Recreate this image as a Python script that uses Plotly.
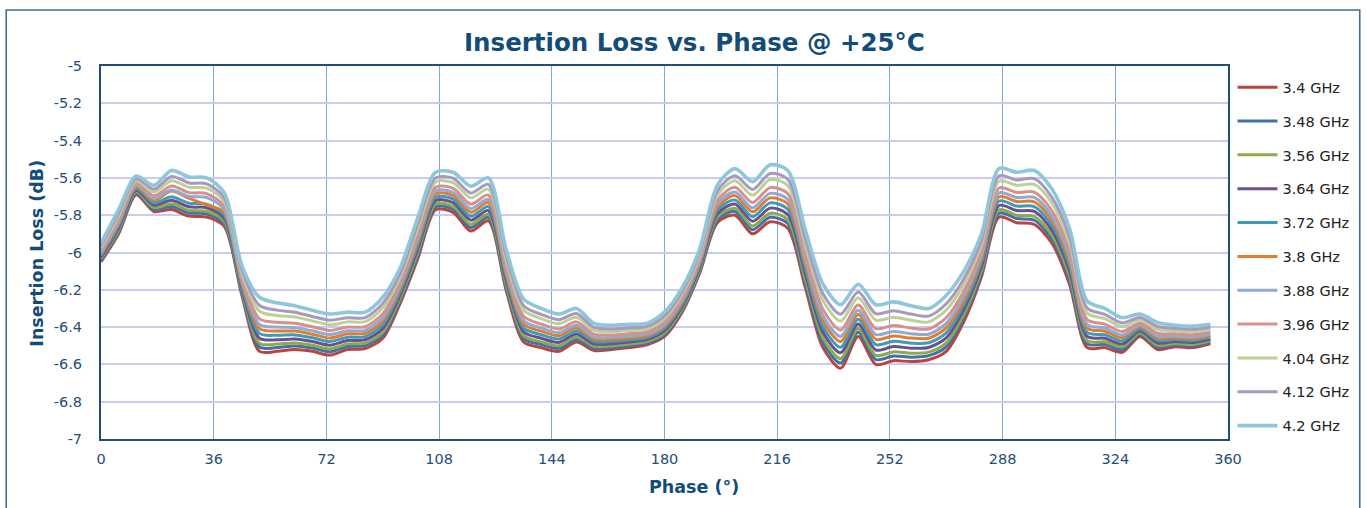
import plotly.graph_objects as go

# phase states (deg)
phase = [0, 5.625, 11.25, 16.875, 22.5, 28.125, 33.75, 39.375, 45, 50.625,
         56.25, 61.875, 67.5, 73.125, 78.75, 84.375, 90, 95.625, 101.25, 106.875,
         112.5, 118.125, 123.75, 129.375, 135, 140.625, 146.25, 151.875, 157.5, 163.125,
         168.75, 174.375, 180, 185.625, 191.25, 196.875, 202.5, 208.125, 213.75, 219.375,
         225, 230.625, 236.25, 241.875, 247.5, 253.125, 258.75, 264.375, 270, 275.625,
         281.25, 286.875, 292.5, 298.125, 303.75, 309.375, 315, 320.625, 326.25, 331.875,
         337.5, 343.125, 348.75, 354.375]

# insertion loss (dB) per frequency
il_340 = [-6.05, -5.90, -5.69, -5.78, -5.77, -5.805, -5.81, -5.86, -6.23, -6.53,
          -6.53, -6.52, -6.53, -6.55, -6.52, -6.515, -6.46, -6.27, -6.03, -5.77,
          -5.785, -5.885, -5.83, -6.20, -6.48, -6.51, -6.53, -6.48, -6.525, -6.52,
          -6.51, -6.495, -6.45, -6.32, -6.11, -5.84, -5.80, -5.90, -5.835, -5.87,
          -6.19, -6.51, -6.62, -6.45, -6.60, -6.58, -6.585, -6.575, -6.53, -6.37,
          -6.13, -5.81, -5.84, -5.85, -5.95, -6.17, -6.51, -6.51, -6.535, -6.45,
          -6.52, -6.505, -6.51, -6.49]
il_348 = [-6.042, -5.890, -5.682, -5.769, -5.753, -5.788, -5.793, -5.846, -6.217, -6.507,
          -6.509, -6.501, -6.512, -6.532, -6.504, -6.499, -6.442, -6.255, -6.012, -5.754,
          -5.768, -5.866, -5.812, -6.182, -6.462, -6.493, -6.514, -6.466, -6.513, -6.510,
          -6.500, -6.486, -6.440, -6.310, -6.100, -5.824, -5.780, -5.878, -5.811, -5.845,
          -6.165, -6.483, -6.593, -6.428, -6.574, -6.555, -6.561, -6.553, -6.506, -6.348,
          -6.112, -5.789, -5.818, -5.827, -5.927, -6.146, -6.490, -6.493, -6.520, -6.440,
          -6.508, -6.496, -6.501, -6.482]
il_356 = [-6.035, -5.881, -5.675, -5.759, -5.739, -5.774, -5.779, -5.833, -6.206, -6.487,
          -6.491, -6.485, -6.497, -6.517, -6.490, -6.486, -6.427, -6.242, -5.997, -5.740,
          -5.753, -5.849, -5.796, -6.167, -6.446, -6.479, -6.500, -6.453, -6.503, -6.501,
          -6.491, -6.478, -6.431, -6.301, -6.091, -5.810, -5.763, -5.858, -5.789, -5.824,
          -6.144, -6.459, -6.569, -6.408, -6.552, -6.533, -6.540, -6.534, -6.485, -6.330,
          -6.096, -5.771, -5.800, -5.807, -5.907, -6.125, -6.473, -6.479, -6.507, -6.432,
          -6.498, -6.488, -6.493, -6.474]
il_364 = [-6.026, -5.869, -5.666, -5.746, -5.720, -5.755, -5.760, -5.817, -6.192, -6.460,
          -6.468, -6.464, -6.477, -6.497, -6.472, -6.468, -6.407, -6.224, -5.977, -5.722,
          -5.733, -5.827, -5.775, -6.147, -6.425, -6.460, -6.482, -6.437, -6.490, -6.489,
          -6.480, -6.467, -6.419, -6.289, -6.079, -5.792, -5.740, -5.833, -5.762, -5.796,
          -6.116, -6.428, -6.538, -6.383, -6.523, -6.504, -6.513, -6.509, -6.458, -6.305,
          -6.075, -5.748, -5.775, -5.780, -5.880, -6.098, -6.450, -6.460, -6.491, -6.421,
          -6.485, -6.477, -6.482, -6.465]
il_372 = [-6.017, -5.857, -5.657, -5.734, -5.701, -5.736, -5.741, -5.801, -6.177, -6.434,
          -6.444, -6.442, -6.457, -6.477, -6.454, -6.451, -6.387, -6.207, -5.957, -5.704,
          -5.714, -5.806, -5.754, -6.127, -6.404, -6.441, -6.464, -6.421, -6.477, -6.477,
          -6.469, -6.457, -6.407, -6.277, -6.067, -5.774, -5.718, -5.808, -5.734, -5.768,
          -6.088, -6.398, -6.508, -6.358, -6.494, -6.476, -6.486, -6.484, -6.431, -6.281,
          -6.054, -5.724, -5.751, -5.754, -5.854, -6.071, -6.428, -6.441, -6.474, -6.410,
          -6.472, -6.467, -6.472, -6.455]
il_380 = [-6.008, -5.845, -5.648, -5.721, -5.670, -5.710, -5.745, -5.784, -6.163, -6.408,
          -6.421, -6.421, -6.438, -6.458, -6.436, -6.433, -6.368, -6.190, -5.938, -5.686,
          -5.695, -5.784, -5.733, -6.108, -6.383, -6.422, -6.446, -6.404, -6.464, -6.465,
          -6.458, -6.447, -6.395, -6.265, -6.055, -5.756, -5.695, -5.782, -5.707, -5.740,
          -6.060, -6.367, -6.477, -6.332, -6.466, -6.448, -6.459, -6.460, -6.404, -6.257,
          -6.033, -5.701, -5.727, -5.728, -5.828, -6.044, -6.405, -6.422, -6.457, -6.400,
          -6.459, -6.457, -6.462, -6.446]
il_388 = [-6.000, -5.835, -5.640, -5.710, -5.665, -5.700, -5.705, -5.770, -6.150, -6.385,
          -6.400, -6.403, -6.420, -6.440, -6.420, -6.418, -6.350, -6.175, -5.920, -5.670,
          -5.678, -5.765, -5.715, -6.090, -6.365, -6.405, -6.430, -6.390, -6.453, -6.455,
          -6.448, -6.438, -6.385, -6.255, -6.045, -5.740, -5.675, -5.760, -5.683, -5.715,
          -6.035, -6.340, -6.450, -6.310, -6.440, -6.423, -6.435, -6.438, -6.380, -6.235,
          -6.015, -5.680, -5.705, -5.705, -5.805, -6.020, -6.385, -6.405, -6.443, -6.390,
          -6.448, -6.448, -6.453, -6.438]
il_396 = [-5.990, -5.822, -5.630, -5.696, -5.644, -5.679, -5.684, -5.752, -6.134, -6.356,
          -6.374, -6.379, -6.398, -6.418, -6.400, -6.398, -6.328, -6.156, -5.898, -5.650,
          -5.656, -5.741, -5.692, -6.068, -6.342, -6.384, -6.410, -6.372, -6.438, -6.442,
          -6.435, -6.426, -6.372, -6.242, -6.032, -5.720, -5.650, -5.732, -5.652, -5.684,
          -6.004, -6.306, -6.416, -6.282, -6.408, -6.391, -6.405, -6.410, -6.350, -6.208,
          -5.992, -5.654, -5.678, -5.676, -5.776, -5.990, -6.360, -6.384, -6.424, -6.378,
          -6.433, -6.436, -6.441, -6.427]
il_404 = [-5.976, -5.804, -5.616, -5.676, -5.615, -5.650, -5.655, -5.727, -6.112, -6.315,
          -6.338, -6.346, -6.367, -6.387, -6.372, -6.371, -6.297, -6.129, -5.867, -5.622,
          -5.626, -5.707, -5.660, -6.037, -6.310, -6.355, -6.382, -6.347, -6.418, -6.424,
          -6.418, -6.410, -6.354, -6.224, -6.014, -5.692, -5.615, -5.693, -5.609, -5.641,
          -5.961, -6.258, -6.368, -6.243, -6.363, -6.347, -6.363, -6.372, -6.308, -6.170,
          -5.960, -5.618, -5.640, -5.635, -5.735, -5.948, -6.325, -6.355, -6.398, -6.361,
          -6.413, -6.420, -6.425, -6.412]
il_412 = [-5.965, -5.790, -5.605, -5.661, -5.592, -5.627, -5.632, -5.707, -6.094, -6.284,
          -6.309, -6.320, -6.343, -6.363, -6.350, -6.349, -6.273, -6.109, -5.843, -5.600,
          -5.602, -5.681, -5.635, -6.013, -6.285, -6.332, -6.360, -6.327, -6.402, -6.410,
          -6.404, -6.397, -6.340, -6.210, -6.000, -5.670, -5.588, -5.662, -5.576, -5.607,
          -5.927, -6.221, -6.331, -6.212, -6.328, -6.312, -6.330, -6.341, -6.275, -6.141,
          -5.935, -5.589, -5.611, -5.604, -5.704, -5.915, -6.298, -6.332, -6.378, -6.348,
          -6.397, -6.407, -6.412, -6.401]
il_420 = [-5.95, -5.77, -5.59, -5.64, -5.56, -5.595, -5.60, -5.68, -6.07, -6.24,
          -6.27, -6.285, -6.31, -6.33, -6.32, -6.32, -6.24, -6.08, -5.81, -5.57,
          -5.57, -5.645, -5.60, -5.98, -6.25, -6.30, -6.33, -6.30, -6.38, -6.39,
          -6.385, -6.38, -6.32, -6.19, -5.98, -5.64, -5.55, -5.62, -5.53, -5.56,
          -5.88, -6.17, -6.28, -6.17, -6.28, -6.265, -6.285, -6.30, -6.23, -6.10,
          -5.90, -5.55, -5.57, -5.56, -5.66, -5.87, -6.26, -6.30, -6.35, -6.33,
          -6.375, -6.39, -6.395, -6.385]

labels = ["3.4 GHz", "3.48 GHz", "3.56 GHz", "3.64 GHz", "3.72 GHz", "3.8 GHz",
          "3.88 GHz", "3.96 GHz", "4.04 GHz", "4.12 GHz", "4.2 GHz"]
colors = ["#B8463F", "#4172AE", "#8AAB48", "#6A5090", "#3D9CBA", "#E27D30",
          "#90AAD2", "#D6908D", "#BCD294", "#A898C2", "#8EC6DA"]
series = [il_340, il_348, il_356, il_364, il_372, il_380,
          il_388, il_396, il_404, il_412, il_420]

y_ticks = [-5, -5.2, -5.4, -5.6, -5.8, -6, -6.2, -6.4, -6.6, -6.8, -7]
y_tick_text = ["-5", "-5.2", "-5.4", "-5.6", "-5.8", "-6", "-6.2", "-6.4", "-6.6", "-6.8", "-7"]
x_ticks = [0, 36, 72, 108, 144, 180, 216, 252, 288, 324, 360]

NAVY = "#1F4E79"
TITLE_BLUE = "#124C78"
FONT = "DejaVu Sans"

fig = go.Figure()
for name, col, vals in zip(labels, colors, series):
    fig.add_trace(go.Scatter(
        x=phase, y=vals, name=name, mode="lines", legendgroup=name,
        line=dict(color=col, width=3.6 if name == "4.2 GHz" else 3, shape="spline", smoothing=0.8),
    ))

fig.update_layout(
    width=1367, height=508, autosize=False,
    margin=dict(l=101, r=137, t=66, b=69),
    paper_bgcolor="white", plot_bgcolor="white",
    font=dict(family=FONT, color=NAVY),
    showlegend=True,
    legend=dict(x=1.004, y=0.986, xanchor="left", yanchor="top",
                font=dict(family=FONT, size=14.5, color="#222222"),
                itemwidth=40, tracegroupgap=12, maxheight=800, bgcolor="rgba(0,0,0,0)"),
)

fig.update_xaxes(
    range=[0, 360], tickvals=x_ticks, ticks="", ticklabelstandoff=6,
    tickfont=dict(family=FONT, size=14.5, color=NAVY),
    showgrid=True, gridcolor="#7EA6E0", gridwidth=1,
    showline=True, mirror=True, linecolor=NAVY, linewidth=2, zeroline=False,
)
fig.update_yaxes(
    range=[-7, -5], tickvals=y_ticks, ticktext=y_tick_text, ticks="", ticklabelstandoff=14,
    tickfont=dict(family=FONT, size=14.5, color=NAVY),
    showgrid=True, gridcolor="#CACAF7", gridwidth=1.6,
    showline=True, mirror=True, linecolor=NAVY, linewidth=2, zeroline=False,
)

fig.add_annotation(text="<b>Insertion Loss vs. Phase @ +25°C</b>", xref="paper", yref="paper",
                   x=0.527, y=1.064, xanchor="center", yanchor="middle", showarrow=False,
                   font=dict(family=FONT, size=24.5, color=TITLE_BLUE))
fig.add_annotation(text="<b>Phase (°)</b>", xref="paper", yref="paper",
                   x=0.526, y=-0.129, xanchor="center", yanchor="middle", showarrow=False,
                   font=dict(family=FONT, size=17.5, color=TITLE_BLUE))
fig.add_annotation(text="<b>Insertion Loss (dB)</b>", xref="paper", yref="paper",
                   x=-0.057, y=0.499, xanchor="center", yanchor="middle", showarrow=False,
                   textangle=-90, font=dict(family=FONT, size=17.5, color=TITLE_BLUE))

# outer chart frame
fig.add_shape(type="rect", xref="paper", yref="paper",
              x0=-0.0841, x1=1.1169, y0=-0.21, y1=1.150,
              line=dict(color="#3E6E93", width=1.6), fillcolor="rgba(0,0,0,0)", layer="below")

fig.write_html("out.html", config={"displayModeBar": False},
               post_script="document.body.style.margin='0';")
